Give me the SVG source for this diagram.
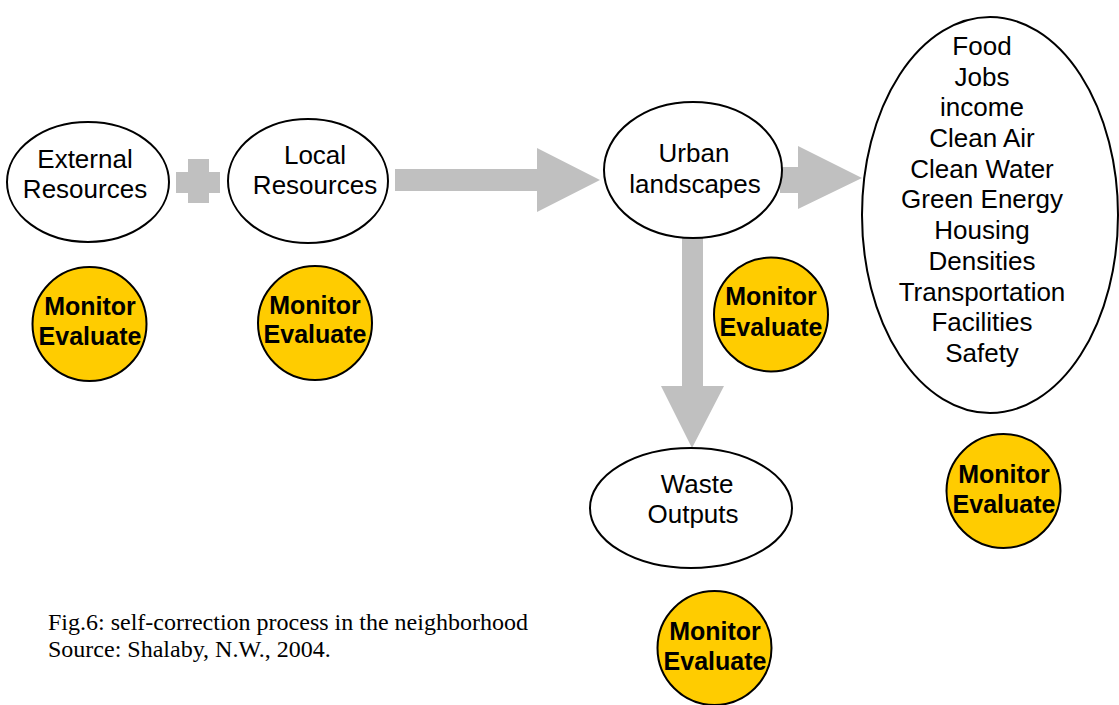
<svg xmlns="http://www.w3.org/2000/svg" width="1119" height="705" viewBox="0 0 1119 705">
  <style>
    .node { fill: #ffffff; stroke: #000000; stroke-width: 2; }
    .me { fill: #ffcc00; stroke: #000000; stroke-width: 2; }
    .lbl { font-family: "Liberation Sans", Arial, sans-serif; font-size: 26px; fill: #000000; text-anchor: middle; }
    .me-lbl { font-family: "Liberation Sans", Arial, sans-serif; font-size: 25px; font-weight: bold; fill: #000000; text-anchor: middle; }
    .arrow { fill: #c0c0c0; stroke: none; }
    .caption { font-family: "Liberation Serif", "Times New Roman", serif; font-size: 24px; fill: #000000; }
  </style>
  <rect width="1119" height="705" fill="#ffffff"/>

  <!-- block arrows and the plus sign -->
  <g id="connectors">
    <path class="arrow" d="M176,172 H188 V159 H209 V172 H220 V193 H209 V203 H188 V193 H176 Z"/>
    <path class="arrow" d="M395,169 H537 V148 L600,180 L537,212 V191 H395 Z"/>
    <path class="arrow" d="M780,167 H798 V146 L862,178 L798,209 V193 H780 Z"/>
    <path class="arrow" d="M682,238 H703 V386 H724 L692,448 L661,386 H682 Z"/>
  </g>

  <g id="external-resources">
    <ellipse class="node" cx="88" cy="182" rx="81" ry="60"/>
    <text class="lbl" x="85" y="168">External</text>
    <text class="lbl" x="85" y="198">Resources</text>
  </g>

  <g id="local-resources">
    <ellipse class="node" cx="308" cy="181" rx="80" ry="62"/>
    <text class="lbl" x="315" y="164">Local</text>
    <text class="lbl" x="315" y="194">Resources</text>
  </g>

  <g id="urban-landscapes">
    <ellipse class="node" cx="693" cy="170" rx="89" ry="68"/>
    <text class="lbl" x="694" y="162">Urban</text>
    <text class="lbl" x="695" y="193">landscapes</text>
  </g>

  <g id="outcomes">
    <ellipse class="node" cx="990" cy="215" rx="128" ry="198"/>
    <text class="lbl" x="982" y="55">Food</text>
    <text class="lbl" x="982" y="86">Jobs</text>
    <text class="lbl" x="982" y="116">income</text>
    <text class="lbl" x="982" y="147">Clean Air</text>
    <text class="lbl" x="982" y="178">Clean Water</text>
    <text class="lbl" x="982" y="208">Green Energy</text>
    <text class="lbl" x="982" y="239">Housing</text>
    <text class="lbl" x="982" y="270">Densities</text>
    <text class="lbl" x="982" y="301">Transportation</text>
    <text class="lbl" x="982" y="331">Facilities</text>
    <text class="lbl" x="982" y="362">Safety</text>
  </g>

  <g id="waste-outputs">
    <ellipse class="node" cx="691" cy="508" rx="101" ry="60"/>
    <text class="lbl" x="697" y="493">Waste</text>
    <text class="lbl" x="693" y="523">Outputs</text>
  </g>

  <g id="monitor-1">
    <circle class="me" cx="89.5" cy="324" r="57"/>
    <text class="me-lbl" x="90" y="315">Monitor</text>
    <text class="me-lbl" x="90" y="345">Evaluate</text>
  </g>

  <g id="monitor-2">
    <circle class="me" cx="315" cy="323" r="57"/>
    <text class="me-lbl" x="315" y="314">Monitor</text>
    <text class="me-lbl" x="315" y="343">Evaluate</text>
  </g>

  <g id="monitor-3">
    <circle class="me" cx="771" cy="314.5" r="57"/>
    <text class="me-lbl" x="771" y="305">Monitor</text>
    <text class="me-lbl" x="771" y="336">Evaluate</text>
  </g>

  <g id="monitor-4">
    <circle class="me" cx="1003.5" cy="491" r="57"/>
    <text class="me-lbl" x="1004" y="483">Monitor</text>
    <text class="me-lbl" x="1004" y="513">Evaluate</text>
  </g>

  <g id="monitor-5">
    <circle class="me" cx="714.5" cy="648" r="57"/>
    <text class="me-lbl" x="715" y="640">Monitor</text>
    <text class="me-lbl" x="715" y="670">Evaluate</text>
  </g>

  <g id="caption">
    <text class="caption" x="48" y="630">Fig.6: self-correction process in the neighborhood</text>
    <text class="caption" x="48" y="657">Source: Shalaby, N.W., 2004.</text>
  </g>
</svg>
